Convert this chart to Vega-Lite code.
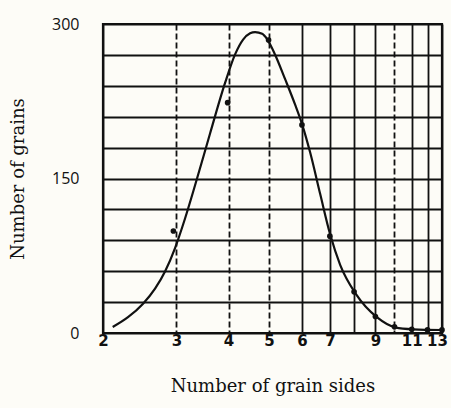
{
  "$schema": "https://vega.github.io/schema/vega-lite/v6.json",
  "autosize": "none",
  "width": 339,
  "height": 309,
  "padding": {"left": 103, "top": 24, "right": 9, "bottom": 75},
  "background": "#fdfcf7",
  "config": {
    "view": {"stroke": "#111", "strokeWidth": 2.2},
    "axis": {"gridColor": "#111", "gridOpacity": 1, "gridWidth": 1.8, "domain": false, "ticks": false,
      "labelColor": "#111", "titleColor": "#111", "titleFont": "DejaVu Serif", "titleFontWeight": "normal"}
  },
  "datasets": {
    "curve": [
      {"sides": 2.11, "grains": 5.8},
      {"sides": 2.296, "grains": 15.3},
      {"sides": 2.495, "grains": 28.4},
      {"sides": 2.666, "grains": 43.0},
      {"sides": 2.817, "grains": 59.7},
      {"sides": 2.977, "grains": 82.5},
      {"sides": 3.146, "grains": 111.2},
      {"sides": 3.325, "grains": 143.4},
      {"sides": 3.612, "grains": 193.7},
      {"sides": 3.924, "grains": 242.8},
      {"sides": 4.147, "grains": 270.5},
      {"sides": 4.335, "grains": 284.9},
      {"sides": 4.506, "grains": 291.0},
      {"sides": 4.632, "grains": 292.2},
      {"sides": 4.815, "grains": 290.5},
      {"sides": 4.949, "grains": 285.4},
      {"sides": 5.173, "grains": 270.2},
      {"sides": 5.467, "grains": 246.4},
      {"sides": 5.777, "grains": 221.7},
      {"sides": 6.005, "grains": 202.6},
      {"sides": 6.276, "grains": 175.4},
      {"sides": 6.633, "grains": 135.1},
      {"sides": 7.009, "grains": 95.8},
      {"sides": 7.408, "grains": 66.2},
      {"sides": 8.093, "grains": 37.5},
      {"sides": 9.088, "grains": 15.1},
      {"sides": 10.04, "grains": 5.5},
      {"sides": 11.09, "grains": 3.6},
      {"sides": 13.0, "grains": 2.9}
    ],
    "points": [
      {"sides": 2.95, "grains": 99},
      {"sides": 3.98, "grains": 223.6},
      {"sides": 4.99, "grains": 284.5},
      {"sides": 6, "grains": 202},
      {"sides": 7, "grains": 94},
      {"sides": 8, "grains": 40},
      {"sides": 9, "grains": 16},
      {"sides": 10, "grains": 6},
      {"sides": 11, "grains": 3.6},
      {"sides": 12, "grains": 3},
      {"sides": 13, "grains": 3}
    ]
  },
  "encoding": {
    "x": {"field": "sides", "type": "quantitative",
      "scale": {"type": "log", "domain": [2, 13], "nice": false},
      "axis": {"title": "Number of grain sides", "values": [2,3,4,5,6,7,8,9,10,11,12,13],
        "labelExpr": "indexof([8,10,12], datum.value) >= 0 ? '' : datum.label",
        "labelFont": "DejaVu Sans", "labelFontWeight": "bold", "labelFontSize": 15, "labelPadding": 0,
        "labelFlush": false, "labelOverlap": false,
        "labelOffset": {"condition": {"test": "datum.value == 13", "value": -5}, "value": 0},
        "gridDash": {"condition": {"test": "indexof([3,4,5,10], datum.value) >= 0", "value": [6, 3]}, "value": []},
        "titleFontSize": 18, "titlePadding": 29}},
    "y": {"field": "grains", "type": "quantitative",
      "scale": {"domain": [0, 300], "nice": false},
      "axis": {"title": "Number of grains", "values": [0,30,60,90,120,150,180,210,240,270,300],
        "labelExpr": "datum.value % 150 == 0 ? datum.label : ''",
        "labelFont": "Open Sans", "labelFontSize": 16, "labelPadding": 24,
        "titleFontSize": 18, "titlePadding": 24}}
  },
  "layer": [
    {"data": {"name": "curve"}, "mark": {"type": "line", "interpolate": "monotone", "color": "#111", "strokeWidth": 2.2, "clip": true}},
    {"data": {"name": "points"}, "mark": {"type": "point", "filled": true, "color": "#111", "size": 32, "opacity": 1}}
  ]
}
